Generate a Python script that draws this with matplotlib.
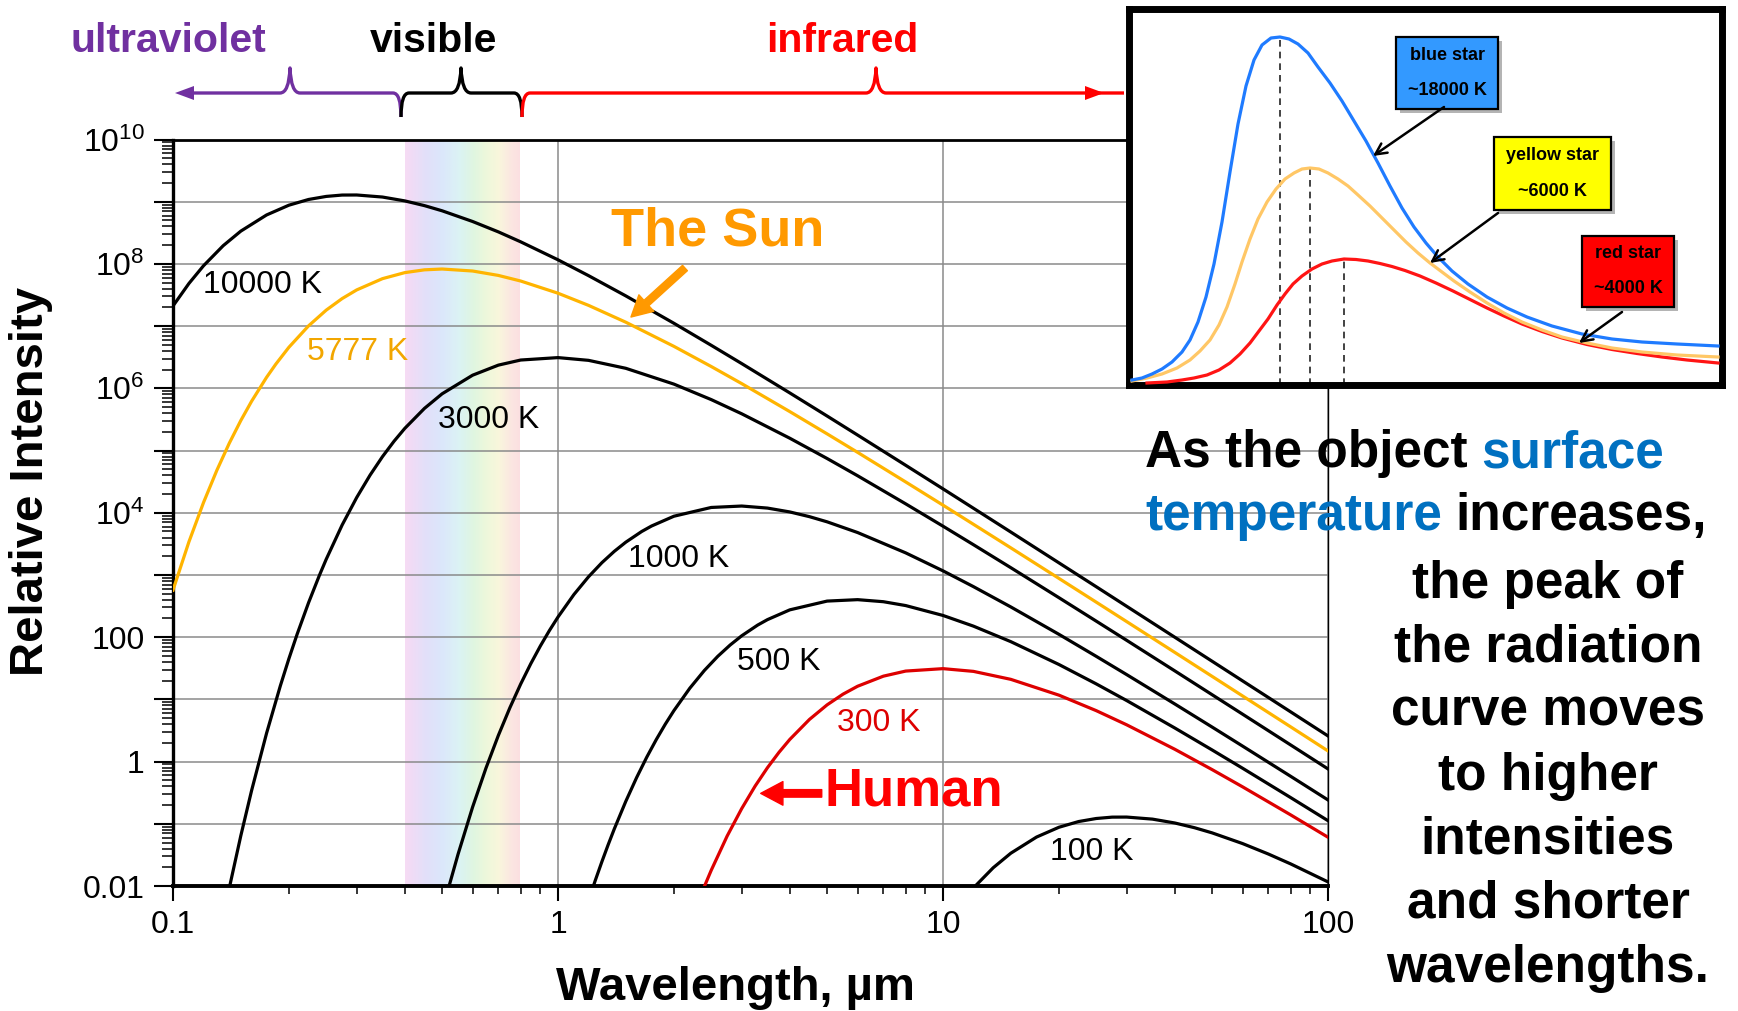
import numpy as np
import matplotlib
matplotlib.use('Agg')
import matplotlib.pyplot as plt
from matplotlib.path import Path
from matplotlib.patches import PathPatch, Polygon, Rectangle
from matplotlib.colors import LinearSegmentedColormap
from matplotlib.ticker import FixedLocator, FixedFormatter, LogLocator, NullFormatter

plt.rcParams['font.family'] = ['Liberation Sans', 'DejaVu Sans']
plt.rcParams['mathtext.fontset'] = 'custom'
plt.rcParams['mathtext.rm'] = 'Liberation Sans'

# ---------------- data ----------------
# wavelength in micrometres, log10 of relative intensity
wl_10000 = [0.1, 0.11, 0.12, 0.135, 0.15, 0.175, 0.2, 0.225, 0.25, 0.275, 0.3, 0.35, 0.4, 0.45, 0.5, 0.6, 0.7,
            0.8, 1, 1.2, 1.5, 2, 2.5, 3, 4, 5, 6, 8, 10, 12, 15, 20, 25, 30, 40, 50, 60, 80, 100]
logI_10000 = [7.324, 7.686, 7.970, 8.293, 8.527, 8.787, 8.944, 9.036, 9.085, 9.107, 9.108, 9.075, 9.013, 8.937,
              8.854, 8.682, 8.515, 8.355, 8.066, 7.812, 7.486, 7.046, 6.692, 6.398, 5.926, 5.555, 5.249, 4.763,
              4.384, 4.072, 3.690, 3.195, 2.811, 2.496, 1.999, 1.613, 1.297, 0.799, 0.412]

wl_5777 = [0.1, 0.11, 0.12, 0.13, 0.14, 0.15, 0.16, 0.175, 0.185, 0.2, 0.225, 0.25, 0.275, 0.3, 0.35, 0.4, 0.45,
           0.5, 0.6, 0.7, 0.8, 1, 1.2, 1.5, 2, 2.5, 3, 4, 5, 6, 8, 10, 12, 15, 20, 25, 30, 40, 50, 60, 80, 100]
logI_5777 = [2.756, 3.533, 4.163, 4.683, 5.117, 5.482, 5.792, 6.177, 6.390, 6.660, 7.005, 7.257, 7.443, 7.582,
             7.763, 7.860, 7.905, 7.918, 7.886, 7.815, 7.725, 7.529, 7.334, 7.063, 6.675, 6.351, 6.076, 5.626,
             5.268, 4.971, 4.495, 4.122, 3.814, 3.436, 2.945, 2.563, 2.250, 1.755, 1.370, 1.055, 0.558, 0.171]

wl_3000 = [0.14, 0.15, 0.16, 0.175, 0.19, 0.2, 0.21, 0.225, 0.24, 0.25, 0.275, 0.3, 0.325, 0.35, 0.375, 0.4,
           0.45, 0.5, 0.6, 0.7, 0.8, 1, 1.2, 1.5, 2, 2.5, 3, 4, 5, 6, 8, 10, 12, 15, 20, 25, 30, 40, 50, 60, 80, 100]
logI_3000 = [-2.035, -1.193, -0.466, 0.456, 1.217, 1.654, 2.044, 2.555, 2.993, 3.252, 3.803, 4.245, 4.605, 4.902,
             5.149, 5.356, 5.678, 5.912, 6.211, 6.373, 6.455, 6.494, 6.450, 6.322, 6.068, 5.819, 5.591, 5.198,
             4.872, 4.595, 4.143, 3.784, 3.486, 3.117, 2.635, 2.258, 1.949, 1.458, 1.075, 0.762, 0.267, -0.118]

wl_1000 = [0.52, 0.55, 0.6, 0.65, 0.7, 0.75, 0.8, 0.85, 0.9, 0.95, 1, 1.1, 1.2, 1.3, 1.4, 1.5, 1.65, 1.75, 2,
           2.5, 3, 3.5, 4, 4.5, 5, 6, 8, 10, 12, 15, 20, 25, 30, 40, 50, 60, 80, 100]
logI_1000 = [-2.024, -1.490, -0.732, -0.105, 0.421, 0.866, 1.247, 1.575, 1.859, 2.107, 2.324, 2.686, 2.970, 3.197,
             3.379, 3.527, 3.699, 3.787, 3.944, 4.085, 4.108, 4.075, 4.013, 3.937, 3.854, 3.682, 3.355, 3.066,
             2.812, 2.486, 2.046, 1.692, 1.398, 0.926, 0.555, 0.249, -0.237, -0.617]

wl_500 = [1.2, 1.25, 1.3, 1.35, 1.4, 1.5, 1.6, 1.7, 1.8, 1.9, 2, 2.2, 2.4, 2.6, 2.8, 3, 3.3, 3.5, 4, 5, 6, 7, 8,
          10, 12, 15, 20, 25, 30, 40, 50, 60, 80, 100]
logI_500 = [-2.237, -1.909, -1.610, -1.336, -1.084, -0.639, -0.258, 0.070, 0.354, 0.602, 0.819, 1.180, 1.465,
            1.692, 1.874, 2.022, 2.194, 2.282, 2.439, 2.580, 2.603, 2.570, 2.508, 2.349, 2.177, 1.928, 1.561,
            1.249, 0.981, 0.540, 0.187, -0.107, -0.579, -0.950]

wl_300 = [2.4, 2.5, 2.75, 3, 3.25, 3.5, 3.75, 4, 4.5, 5, 5.5, 6, 7, 8, 10, 12, 15, 20, 25, 30, 40, 50, 60, 80, 100]
logI_300 = [-2.007, -1.748, -1.197, -0.756, -0.395, -0.098, 0.149, 0.356, 0.678, 0.912, 1.084, 1.211, 1.373,
            1.455, 1.494, 1.450, 1.322, 1.068, 0.819, 0.591, 0.198, -0.129, -0.406, -0.857, -1.216]

wl_100 = [11.5, 12, 13.5, 15, 17.5, 20, 22.5, 25, 27.5, 30, 35, 40, 45, 50, 60, 70, 80, 100]
logI_100 = [-2.164, -2.030, -1.707, -1.473, -1.213, -1.056, -0.964, -0.915, -0.893, -0.892, -0.925, -0.987,
            -1.063, -1.146, -1.318, -1.486, -1.645, -1.934]

curve_labels = ['10000 K', '5777 K', '3000 K', '1000 K', '500 K', '300 K', '100 K']

xtick_vals = [0.1, 1, 10, 100]
xtick_labels = ['0.1', '1', '10', '100']
ytick_vals = [1e-2, 1e-1, 1e0, 1e1, 1e2, 1e3, 1e4, 1e5, 1e6, 1e7, 1e8, 1e9, 1e10]
ytick_labels = ['0.01', '', '1', '', '100', '', r'$\mathregular{10^{4}}$', '', r'$\mathregular{10^{6}}$', '',
                r'$\mathregular{10^{8}}$', '', r'$\mathregular{10^{10}}$']

visible_band = (0.4, 0.8)

# inset (schematic, arbitrary units)
inset_x_blue = [0, 10, 20, 30, 40, 50, 58, 66, 74, 82, 90, 98, 106, 114, 122, 130, 139, 148, 157, 166, 176, 186,
                198, 210, 222, 234, 246, 258, 270, 282, 294, 306, 320, 336, 355, 375, 395, 420, 450, 480, 510,
                545, 586]
inset_blue = [2, 4, 8, 13, 20, 30, 42, 60, 85, 118, 160, 210, 258, 296, 322, 337, 344, 345, 343, 338, 329, 315,
              299, 281, 261, 241, 219, 196, 174, 155, 139, 125, 111, 98, 85, 74, 65, 56, 48, 43, 40, 38, 36]
inset_x_yellow = [0, 15, 30, 45, 58, 68, 78, 87, 95, 103, 110, 118, 126, 135, 144, 153, 162, 170, 178, 187, 196,
                  206, 216, 226, 238, 250, 262, 274, 286, 298, 310, 322, 338, 355, 372, 390, 410, 430, 455, 480,
                  510, 545, 586]
inset_yellow = [1, 4, 8, 14, 22, 31, 42, 57, 75, 98, 120, 143, 163, 180, 193, 203, 209, 213, 214, 213, 209, 203,
                196, 187, 176, 164, 152, 140, 129, 119, 110, 101, 90, 79, 69, 60, 52, 45, 39, 34, 30, 27, 25]
inset_x_red = [15, 35, 50, 62, 75, 87, 98, 108, 118, 127, 136, 145, 153, 161, 170, 180, 190, 200, 212, 224, 236,
               248, 260, 273, 288, 304, 321, 338, 355, 372, 390, 410, 430, 455, 480, 505, 530, 555, 586]
inset_red = [-1, 0, 2, 4, 7, 12, 19, 28, 39, 51, 63, 77, 88, 98, 106, 113, 118, 121, 123, 122.5, 121, 118.5,
             115.5, 111.5, 106, 99, 91, 82.5, 74, 66, 58, 50.5, 44, 37.5, 32.5, 28.5, 25, 22, 19]
inset_peaks_x = [148, 178, 212]
inset_peaks_y = [345, 214, 123]
star_names = ['blue star', 'yellow star', 'red star']
star_temps = ['~18000 K', '~6000 K', '~4000 K']

right_text_lines = ['the peak of', 'the radiation', 'curve moves', 'to higher', 'intensities',
                    'and shorter', 'wavelengths.']

# ---------------- figure ----------------
W, H = 1738, 1011
fig = plt.figure(figsize=(W / 100, H / 100), dpi=100)


def px_box(l, t, r, b):
    return [l / W, 1 - b / H, (r - l) / W, (b - t) / H]


ax = fig.add_axes(px_box(173, 139.5, 1328, 886))
ax.set_xscale('log')
ax.set_yscale('log')

# visible rainbow band
band_cmap = LinearSegmentedColormap.from_list('band', ['#f4d2f2', '#dcd8f8', '#d2e2fa', '#d2f0f2', '#d8f4da',
                                                       '#eaf6d2', '#f8f4d4', '#fae2da', '#fbd6da'])
ax.imshow(np.linspace(0, 1, 256)[None, :], extent=(visible_band[0], visible_band[1], 1e-2, 1e10),
          aspect='auto', cmap=band_cmap, interpolation='bilinear', alpha=0.8, zorder=0.2)

BLACK = '#000000'
SUN = '#ffb400'
RED300 = '#dd0000'
series = [(wl_10000, logI_10000, BLACK), (wl_5777, logI_5777, SUN), (wl_3000, logI_3000, BLACK),
          (wl_1000, logI_1000, BLACK), (wl_500, logI_500, BLACK), (wl_300, logI_300, RED300),
          (wl_100, logI_100, BLACK)]
for wl, li, c in series:
    ax.plot(wl, 10 ** np.array(li), color=c, lw=2.3, zorder=3, solid_joinstyle='round')

ax.set_xlim(0.1, 100)
ax.set_ylim(1e-2, 1e10)
ax.set_axisbelow(True)
ax.grid(True, which='major', color='#8a8a8a', lw=1.1)

ax.xaxis.set_major_locator(FixedLocator(xtick_vals))
ax.xaxis.set_major_formatter(FixedFormatter(xtick_labels))
ax.xaxis.set_minor_locator(LogLocator(base=10, subs=np.arange(2, 10), numticks=200))
ax.xaxis.set_minor_formatter(NullFormatter())
ax.yaxis.set_major_locator(FixedLocator(ytick_vals))
ax.yaxis.set_major_formatter(FixedFormatter(ytick_labels))
ax.yaxis.set_minor_locator(LogLocator(base=10, subs=np.arange(2, 10), numticks=200))
ax.yaxis.set_minor_formatter(NullFormatter())

ax.tick_params(axis='y', which='major', direction='out', length=13.5, width=1.5, pad=7, labelsize=23)
ax.tick_params(axis='y', which='minor', direction='out', length=8, width=1.1)
ax.tick_params(axis='x', which='major', direction='out', length=11, width=1.5, pad=6, labelsize=23)
ax.tick_params(axis='x', which='minor', direction='out', length=6, width=1.1)
ax.tick_params(which='both', top=False, right=False)

ax.spines['left'].set_linewidth(2.4)
ax.spines['bottom'].set_linewidth(2.8)
ax.spines['top'].set_linewidth(2.0)
ax.spines['right'].set_linewidth(1.0)

ax.set_xlabel('Wavelength, µm', fontsize=34, fontweight='bold')
ax.xaxis.set_label_coords((735 - 173) / 1155, (886 - 1000) / 746.5)
ax.xaxis.label.set_va('baseline')
ax.set_ylabel('Relative Intensity', fontsize=34, fontweight='bold')
ax.yaxis.set_label_coords((31 - 173) / 1155, (886 - 482) / 746.5)
ax.yaxis.label.set_va('center')

# curve labels (left, baseline)
label_pos = [(0.1197, 7.53), (0.2228, 6.455), (0.4875, 5.362), (1.52, 3.127), (2.917, 1.471), (5.305, 0.49),
             (18.97, -1.58)]
label_cols = [BLACK, '#f2a600', BLACK, BLACK, BLACK, RED300, BLACK]
for s, (lx, ly), c in zip(curve_labels, label_pos, label_cols):
    ax.text(lx, 10 ** ly, s, fontsize=23, color=c, ha='left', va='baseline', zorder=4)

ax.text(1.373, 10 ** 8.304, 'The Sun', fontsize=39, fontweight='bold', color='#ff9900',
        ha='left', va='baseline', zorder=4)
ax.annotate('', xy=(1.547, 10 ** 7.146), xytext=(2.137, 10 ** 7.934),
            arrowprops=dict(arrowstyle='simple,head_length=0.75,head_width=0.8,tail_width=0.26',
                            color='#ff9900', shrinkA=0, shrinkB=0, mutation_scale=20), zorder=4)
ax.text(4.937, 10 ** -0.699, 'Human', fontsize=38, fontweight='bold', color='#ff0000',
        ha='left', va='baseline', zorder=4)
ax.annotate('', xy=(3.361, 10 ** -0.511), xytext=(4.842, 10 ** -0.511),
            arrowprops=dict(arrowstyle='simple,head_length=0.8,head_width=0.85,tail_width=0.27',
                            color='#ff0000', shrinkA=0, shrinkB=0, mutation_scale=20), zorder=4)

# ---------------- overlay: spectrum braces and explanatory text ----------------
ov = fig.add_axes([0, 0, 1, 1], zorder=5)
ov.set_xlim(0, W)
ov.set_ylim(H, 0)
ov.axis('off')

PURPLE = '#7030a0'
ov.text(168, 52, 'ultraviolet', color=PURPLE, fontsize=29.5, fontweight='bold', ha='center', va='baseline')
ov.text(434, 52, 'visible', color='black', fontsize=29.5, fontweight='bold', ha='center', va='baseline')
ov.text(842, 52, 'infrared', color='#ff0000', fontsize=29.5, fontweight='bold', ha='center', va='baseline')


def brace(x0, xm, x1, curl0, curl1, y=93, ytop=68, ybot=117):
    verts, codes = [], []
    if curl0:
        verts += [(x0, ybot), (x0, y), (x0 + 8, y)]
        codes += [Path.MOVETO, Path.CURVE3, Path.CURVE3]
    else:
        verts += [(x0, y)]
        codes += [Path.MOVETO]
    verts += [(xm - 10, y), (xm - 1, y), (xm, ytop), (xm + 1, y), (xm + 10, y)]
    codes += [Path.LINETO, Path.CURVE3, Path.CURVE3, Path.CURVE3, Path.CURVE3]
    if curl1:
        verts += [(x1 - 8, y), (x1, y), (x1, ybot)]
        codes += [Path.LINETO, Path.CURVE3, Path.CURVE3]
    else:
        verts += [(x1, y)]
        codes += [Path.LINETO]
    return Path(verts, codes)


for (x0, xm, x1, c0, c1, col) in [(190, 290, 401, False, True, PURPLE),
                                   (401, 461, 522, True, True, 'black'),
                                   (522, 876, 1124, True, False, '#ff0000')]:
    ov.add_patch(PathPatch(brace(x0, xm, x1, c0, c1), fill=False, edgecolor=col, lw=2.4,
                           capstyle='butt', joinstyle='round'))
ov.add_patch(Polygon([(175, 93), (194, 86), (194, 100)], closed=True, color=PURPLE, lw=0))
ov.add_patch(Polygon([(1104, 93), (1085, 86), (1085, 100)], closed=True, color='#ff0000', lw=0))

BLUE_TXT = '#0070c0'
RFS = 37
t1 = ov.text(1145, 467, 'As the object', fontsize=RFS, fontweight='bold', color='black',
             ha='left', va='baseline')
ov.annotate('surface', xy=(1, 0), xycoords=t1, xytext=(10, 0), textcoords='offset points',
            fontsize=RFS, fontweight='bold', color=BLUE_TXT, ha='left', va='bottom')
t2 = ov.text(1145, 530, 'temperature', fontsize=RFS, fontweight='bold', color=BLUE_TXT,
             ha='left', va='baseline')
ov.annotate('increases,', xy=(1, 0), xycoords=t2, xytext=(10, 0), textcoords='offset points',
            fontsize=RFS, fontweight='bold', color='black', ha='left', va='bottom')
for i, line in enumerate(right_text_lines):
    ov.text(1548, 598 + 64 * i, line, fontsize=RFS, fontweight='bold', color='black',
            ha='center', va='baseline')

# ---------------- inset ----------------
axi = fig.add_axes(px_box(1128.5, 8.5, 1721.5, 385), zorder=6)
axi.set_xlim(-3.5, 589.5)
axi.set_ylim(-3, 373.5)
axi.set_xticks([])
axi.set_yticks([])
axi.set_facecolor('white')
for sp in axi.spines.values():
    sp.set_linewidth(5)
    sp.set_color('black')

IN_BLUE, IN_YEL, IN_RED = '#1f7bff', '#ffc766', '#ff1414'
for px, py in zip(inset_peaks_x, inset_peaks_y):
    axi.plot([px, px], [-3, py], color='#222222', lw=1.2, ls=(0, (4, 3)), zorder=2)
axi.plot(inset_x_red, inset_red, color=IN_RED, lw=2.3, zorder=3, solid_joinstyle='round')
axi.plot(inset_x_yellow, inset_yellow, color=IN_YEL, lw=2.3, zorder=3, solid_joinstyle='round')
axi.plot(inset_x_blue, inset_blue, color=IN_BLUE, lw=2.3, zorder=3, solid_joinstyle='round')

boxes = [(264, 272.7, 102, 72.6, '#3399ff'), (362, 172, 117, 72.7, '#ffff00'), (450, 74.7, 92, 71.6, '#ff0000')]
for (bx, by, bw, bh, bc), name, temp in zip(boxes, star_names, star_temps):
    axi.add_patch(Rectangle((bx + 4, by - 4), bw, bh, facecolor='#777777', edgecolor='none', alpha=0.55, zorder=4))
    axi.add_patch(Rectangle((bx, by), bw, bh, facecolor=bc, edgecolor='black', lw=1.6, zorder=5))
    axi.text(bx + bw / 2, by + bh * 0.745, name, fontsize=13, fontweight='bold', ha='center', va='center',
             zorder=6)
    axi.text(bx + bw / 2, by + bh * 0.26, temp, fontsize=13, fontweight='bold', ha='center', va='center',
             zorder=6)

for tail, tip in [((312, 275), (241, 226)), ((366, 169), (298, 119)), ((490, 70), (447, 39))]:
    axi.annotate('', xy=tip, xytext=tail,
                 arrowprops=dict(arrowstyle='->,head_length=0.5,head_width=0.25', lw=1.8, color='black',
                                 shrinkA=0, shrinkB=0, mutation_scale=16), zorder=7)

fig.savefig('out.png', dpi=100)
